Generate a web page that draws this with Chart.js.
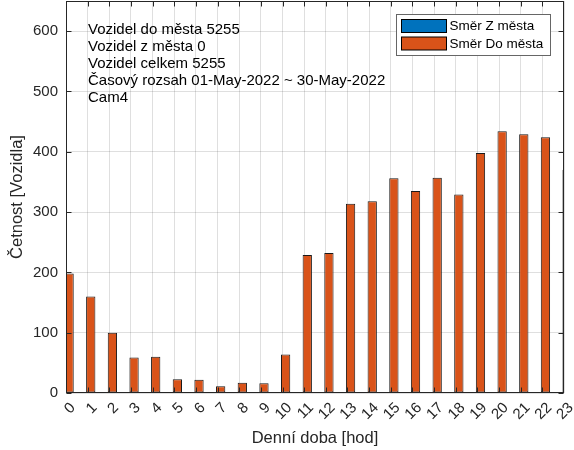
<!DOCTYPE html>
<html>
<head>
<meta charset="utf-8">
<script src="https://cdn.jsdelivr.net/npm/chart.js@4"></script>
<style>
  html, body { margin: 0; padding: 0; background: #fff; }
</style>
</head>
<body>
<canvas id="myChart" width="574" height="450"></canvas>
<script>
// hours of the day
const hours = ['0','1','2','3','4','5','6','7','8','9','10','11','12','13','14','15','16','17','18','19','20','21','22','23'];
// vehicles leaving the city (all zero)
const fromCity = [0,0,0,0,0,0,0,0,0,0,0,0,0,0,0,0,0,0,0,0,0,0,0,0];
// vehicles entering the city
const toCity = [198,160,100,59,60,23,22,11,17,16,64,229,232,314,318,356,335,357,329,398,434,429,424,370];
const seriesNames = ['Směr Z města', 'Směr Do města'];
const seriesColors = ['#0072BD', '#D95319'];
const infoLines = [
    'Vozidel do města 5255',
    'Vozidel z města 0',
    'Vozidel celkem 5255',
    'Časový rozsah 01-May-2022 ~ 30-May-2022',
    'Cam4'
];
const yMax = 650;

const FONT = "'Liberation Sans', Arial, sans-serif";
const AXIS_COLOR = '#262626';

// draws the matlab style box, inward ticks, info text and legend
const boxPlugin = {
    id: 'boxPlugin',
    afterDatasetsDraw(chart) {
        const ctx = chart.ctx;
        const area = chart.chartArea;
        const xs = chart.scales.x;
        const ys = chart.scales.y;
        const l = Math.round(area.left) + 0.5;
        const r = Math.round(area.right) - 0.5;
        const t = Math.round(area.top) + 0.5;
        const b = Math.round(area.bottom) - 0.5;
        ctx.save();
        ctx.strokeStyle = AXIS_COLOR;
        ctx.lineWidth = 1;
        ctx.beginPath();
        for (let i = 0; i < hours.length; i++) {
            let px = Math.round(xs.getPixelForTick(i)) + 0.5;
            if (i == hours.length - 1) px = r;
            ctx.moveTo(px, b); ctx.lineTo(px, b - 5);
            ctx.moveTo(px, t); ctx.lineTo(px, t + 5);
        }
        ys.ticks.forEach(function (tk) {
            const py = Math.round(ys.getPixelForValue(tk.value)) + 0.5;
            ctx.moveTo(l, py); ctx.lineTo(l + 5, py);
            ctx.moveTo(r, py); ctx.lineTo(r - 5, py);
        });
        ctx.stroke();
        ctx.strokeRect(l, t, r - l, b - t);

        // info text
        ctx.fillStyle = '#000';
        ctx.font = '15px ' + FONT;
        ctx.textAlign = 'left';
        ctx.textBaseline = 'alphabetic';
        for (let i = 0; i < infoLines.length; i++) {
            ctx.fillText(infoLines[i], area.left + 22, area.top + 33 + i * 17.1);
        }

        // legend
        const lx = Math.round(area.right) - 167.5;
        const ly = Math.round(area.top) + 13.5;
        ctx.fillStyle = '#fff';
        ctx.fillRect(lx, ly, 154, 41);
        ctx.strokeStyle = '#666';
        ctx.strokeRect(lx, ly, 154, 41);
        ctx.font = '13.5px ' + FONT;
        ctx.textBaseline = 'middle';
        for (let i = 0; i < seriesNames.length; i++) {
            const py = ly + 5 + i * 17.5;
            ctx.fillStyle = seriesColors[i];
            ctx.fillRect(lx + 5, py, 45, 13);
            ctx.strokeStyle = '#000';
            ctx.strokeRect(lx + 5, py, 45, 13);
            ctx.fillStyle = '#000';
            ctx.fillText(seriesNames[i], lx + 53, py + 7);
        }
        ctx.restore();
    }
};

function noPadding(scale) {
    scale.paddingTop = 0;
    scale.paddingBottom = 0;
    scale.paddingLeft = 0;
    scale.paddingRight = 0;
}

const ctx = document.getElementById('myChart').getContext('2d');
const myChart = new Chart(ctx, {
    type: 'bar',
    data: {
        labels: hours,
        datasets: [
            {
                label: seriesNames[0],
                data: fromCity,
                backgroundColor: seriesColors[0],
                borderWidth: 0,
                categoryPercentage: 0.572,
                barPercentage: 1.5,
                clip: 0
            },
            {
                label: seriesNames[1],
                data: toCity,
                backgroundColor: seriesColors[1],
                borderColor: '#1a1a1a',
                borderWidth: 1,
                borderSkipped: false,
                categoryPercentage: 0.572,
                barPercentage: 1.5,
                clip: 0
            }
        ]
    },
    options: {
        responsive: false,
        animation: false,
        layout: { padding: { top: 1, right: 10, left: 0, bottom: 0 } },
        plugins: {
            legend: { display: false },
            tooltip: { enabled: false }
        },
        scales: {
            x: {
                offset: false,
                grid: { offset: false, color: 'rgba(38,38,38,0.15)', drawTicks: false },
                border: { display: false },
                ticks: {
                    autoSkip: false,
                    maxRotation: 45,
                    minRotation: 45,
                    color: AXIS_COLOR,
                    font: { family: FONT, size: 15 },
                    padding: 6,
                    labelOffset: 7
                },
                title: {
                    display: true,
                    text: 'Denní doba [hod]',
                    color: AXIS_COLOR,
                    font: { family: FONT, size: 16.5 },
                    padding: { top: 0, bottom: 2 }
                },
                afterFit: function (scale) { scale.height = 57; noPadding(scale); }
            },
            y: {
                min: 0,
                max: yMax,
                grid: { color: 'rgba(38,38,38,0.15)', drawTicks: false },
                border: { display: false },
                ticks: {
                    stepSize: 100,
                    includeBounds: false,
                    color: AXIS_COLOR,
                    font: { family: FONT, size: 15 },
                    padding: 8
                },
                title: {
                    display: true,
                    text: 'Četnost [Vozidla]',
                    color: AXIS_COLOR,
                    font: { family: FONT, size: 16.5 },
                    padding: { top: 8, bottom: 0 }
                },
                afterFit: function (scale) { scale.width = 66; noPadding(scale); }
            }
        }
    },
    plugins: [boxPlugin]
});
</script>
</body>
</html>
